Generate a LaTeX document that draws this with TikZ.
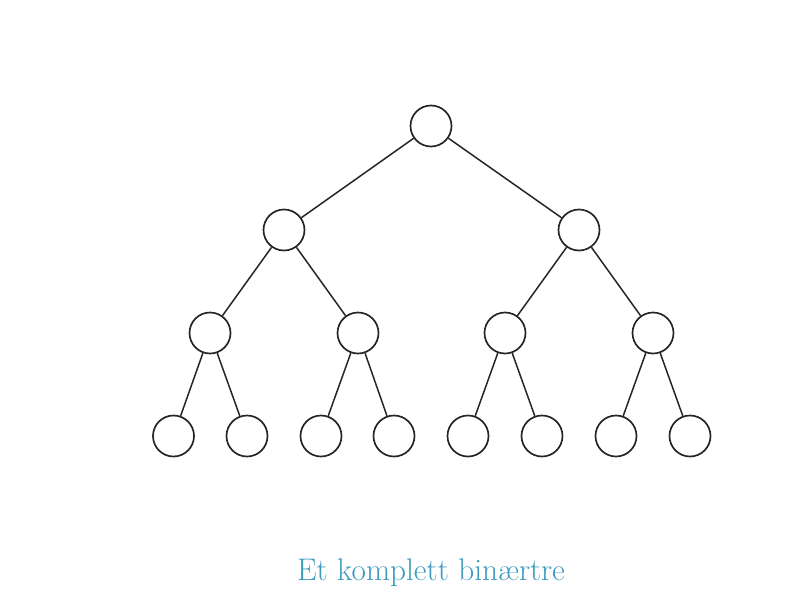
\documentclass[tikz,border=0pt]{standalone}
\usepackage{xcolor}
\definecolor{captioncol}{RGB}{62,154,190}
\begin{document}
\begin{tikzpicture}[x=1pt,y=-1pt,
  treenode/.style={circle,draw=black!85,line width=1.7pt,minimum size=41pt,inner sep=0pt},
  edge/.style={draw=black!85,line width=1.5pt}]
\useasboundingbox (0,0) rectangle (797,597);
\node[treenode] (r) at (431,126) {};
\node[treenode] (a) at (284,230) {};
\node[treenode] (b) at (579,230) {};
\node[treenode] (aa) at (210,333) {};
\node[treenode] (ab) at (358,333) {};
\node[treenode] (ba) at (505,333) {};
\node[treenode] (bb) at (653,333) {};
\node[treenode] (aaa) at (173.5,436) {};
\node[treenode] (aab) at (247,436) {};
\node[treenode] (aba) at (321,436) {};
\node[treenode] (abb) at (394,436) {};
\node[treenode] (baa) at (468,436) {};
\node[treenode] (bab) at (542,436) {};
\node[treenode] (bba) at (616,436) {};
\node[treenode] (bbb) at (690,436) {};
\draw[edge] (r) -- (a);
\draw[edge] (r) -- (b);
\draw[edge] (a) -- (aa);
\draw[edge] (a) -- (ab);
\draw[edge] (b) -- (ba);
\draw[edge] (b) -- (bb);
\draw[edge] (aa) -- (aaa);
\draw[edge] (aa) -- (aab);
\draw[edge] (ab) -- (aba);
\draw[edge] (ab) -- (abb);
\draw[edge] (ba) -- (baa);
\draw[edge] (ba) -- (bab);
\draw[edge] (bb) -- (bba);
\draw[edge] (bb) -- (bbb);
\node[text=captioncol,font=\fontsize{31.3}{36}\selectfont,inner sep=0pt] (cap) at (431,573) {Et komplett binærtre};
\end{tikzpicture}
\end{document}
